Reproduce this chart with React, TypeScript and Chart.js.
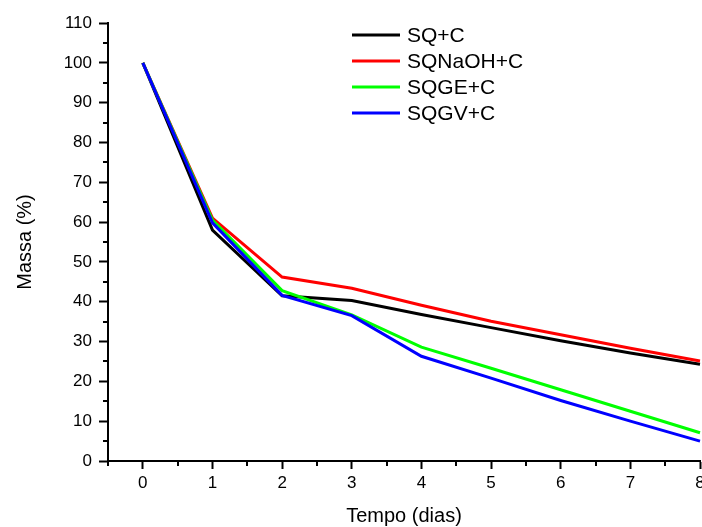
import React, { useEffect, useRef } from "react";
import { Chart, registerables } from "chart.js";

Chart.register(...registerables);

const days = [0, 1, 2, 3, 4, 5, 6, 7, 8];
const seriesLabels = ["SQ+C", "SQNaOH+C", "SQGE+C", "SQGV+C"];
const seriesColors = ["#000000", "#ff0000", "#00ff00", "#0000ff"];
const sqC = [100, 58, 41.5, 40.3, 36.8, 33.5, 30.2, 27.1, 24.3];
const sqNaOHC = [100, 61, 46.2, 43.4, 39.1, 35.1, 31.7, 28.3, 25.1];
const sqGEC = [100, 60.5, 42.8, 36.7, 28.6, 23.3, 17.9, 12.5, 7.1];
const sqGVC = [100, 59.8, 41.6, 36.5, 26.3, 20.8, 15.2, 10.0, 5.0];
const xTicks = [0, 1, 2, 3, 4, 5, 6, 7, 8];
const yTicks = [0, 10, 20, 30, 40, 50, 60, 70, 80, 90, 100, 110];
const xMinorTicks = [-0.5, 0.5, 1.5, 2.5, 3.5, 4.5, 5.5, 6.5, 7.5];
const yMinorTicks = [5, 15, 25, 35, 45, 55, 65, 75, 85, 95, 105];

const FONT = "Arial, 'Liberation Sans', sans-serif";

const extrasPlugin = {
  id: "extras",
  afterDraw(chart: any) {
    const ctx = chart.ctx;
    const xs = chart.scales.x;
    const ys = chart.scales.y;
    const area = chart.chartArea;
    ctx.save();
    ctx.strokeStyle = "#000";
    ctx.lineWidth = 2;
    ctx.beginPath();
    xMinorTicks.forEach((v) => {
      const px = Math.round(xs.getPixelForValue(v));
      ctx.moveTo(px, area.bottom);
      ctx.lineTo(px, area.bottom + 5);
    });
    yMinorTicks.forEach((v) => {
      const py = Math.round(ys.getPixelForValue(v));
      ctx.moveTo(area.left, py);
      ctx.lineTo(area.left - 5, py);
    });
    ctx.stroke();

    // legend
    const rows = [35, 61, 87, 113];
    ctx.font = `21px ${FONT}`;
    ctx.textBaseline = "middle";
    ctx.textAlign = "left";
    chart.data.datasets.forEach((ds: any, i: number) => {
      const y = rows[i];
      ctx.strokeStyle = ds.borderColor;
      ctx.lineWidth = 3;
      ctx.beginPath();
      ctx.moveTo(352, y);
      ctx.lineTo(400, y);
      ctx.stroke();
      ctx.fillStyle = "#000";
      ctx.fillText(ds.label, 407, y + 1);
    });
    ctx.restore();
  },
};

export default function App() {
  const ref = useRef<HTMLCanvasElement | null>(null);
  useEffect(() => {
    if (!ref.current) return;
    const values = [sqC, sqNaOHC, sqGEC, sqGVC];
    const chart = new Chart(ref.current, {
      type: "line",
      data: {
        datasets: values.map((vals, i) => ({
          label: seriesLabels[i],
          data: days.map((d, j) => ({ x: d, y: vals[j] })),
          borderColor: seriesColors[i],
          backgroundColor: seriesColors[i],
          borderWidth: 3,
          pointRadius: 0,
          tension: 0,
          order: 4 - i,
          clip: false as any,
        })),
      },
      options: {
        animation: false,
        responsive: false,
        layout: { padding: { top: 23, right: 2, left: 0, bottom: 0 } },
        plugins: { legend: { display: false }, tooltip: { enabled: false } },
        scales: {
          x: {
            type: "linear",
            min: -0.5,
            max: 8,
            afterBuildTicks: (s: any) => {
              s.ticks = xTicks.map((v) => ({ value: v }));
            },
            afterFit: (s: any) => {
              s.height = 66;
              s.paddingLeft = 0;
              s.paddingRight = 0;
            },
            grid: {
              drawOnChartArea: false,
              drawTicks: true,
              tickLength: 8,
              tickWidth: 2,
              tickColor: "#000",
            },
            border: { display: true, color: "#000", width: 2 },
            ticks: {
              color: "#000",
              font: { family: FONT, size: 17 },
              padding: 4,
              maxRotation: 0,
              autoSkip: false,
            },
            title: {
              display: true,
              text: "Tempo (dias)",
              color: "#000",
              font: { family: FONT, size: 20, lineHeight: 1 },
              padding: { top: 0, bottom: 1 },
            },
          },
          y: {
            type: "linear",
            min: 0,
            max: 110,
            afterBuildTicks: (s: any) => {
              s.ticks = yTicks.map((v) => ({ value: v }));
            },
            afterFit: (s: any) => {
              s.width = 108;
              s.paddingTop = 0;
              s.paddingBottom = 0;
            },
            grid: {
              drawOnChartArea: false,
              drawTicks: true,
              tickLength: 9,
              tickWidth: 2,
              tickColor: "#000",
            },
            border: { display: true, color: "#000", width: 2 },
            ticks: {
              color: "#000",
              font: { family: FONT, size: 17 },
              padding: 7,
              autoSkip: false,
            },
            title: {
              display: true,
              text: "Massa (%)",
              color: "#000",
              font: { family: FONT, size: 20, lineHeight: 1.2 },
              padding: { top: 13, bottom: 0 },
            },
          },
        },
      },
      plugins: [extrasPlugin],
    } as any);
    return () => chart.destroy();
  }, []);
  return (
    <div style={{ position: "absolute", left: 0, top: 0, width: 702, height: 527, background: "#fff" }}>
      <canvas ref={ref} width={702} height={527} style={{ display: "block" }} />
    </div>
  );
}
